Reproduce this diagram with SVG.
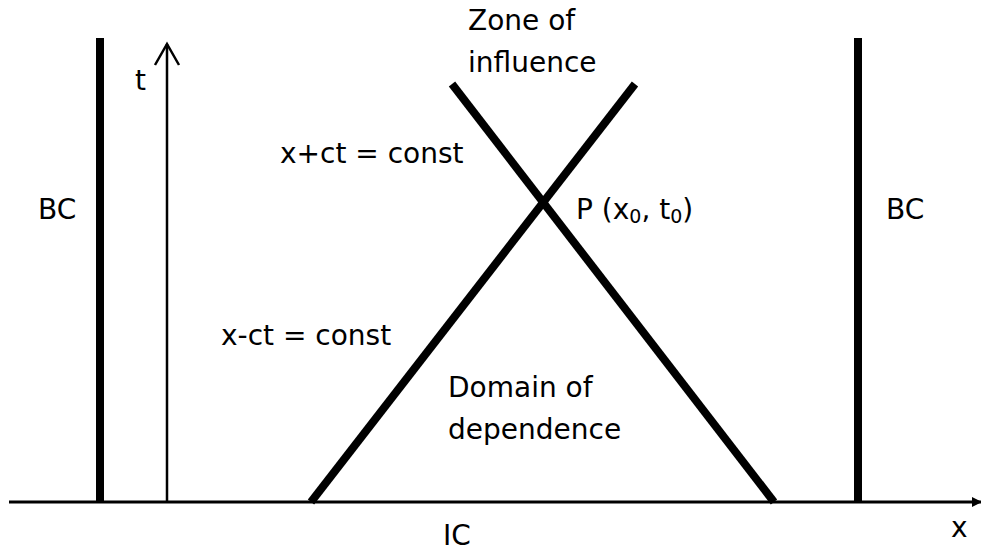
<svg xmlns="http://www.w3.org/2000/svg" width="981" height="551" viewBox="0 0 981 551">
<style>
text{font-family:"DejaVu Sans",Verdana,sans-serif;font-size:28px;fill:#000}
.thick{stroke:#000;stroke-width:8;fill:none}
.axis{stroke:#000;fill:none}
</style>
<defs>
<marker id="ax" markerWidth="10" markerHeight="10" refX="9" refY="5" orient="auto" markerUnits="userSpaceOnUse">
<path d="M0,0 L10,5 L0,10 Z" fill="#000"/>
</marker>
</defs>
<rect width="981" height="551" fill="#fff"/>
<g id="connectors">
<line class="axis" x1="9" y1="502" x2="981" y2="502" stroke-width="3" marker-end="url(#ax)"/>
<line class="axis" x1="167" y1="501" x2="167" y2="44" stroke-width="2.5"/>
<path class="axis" d="M155,65 L167,44 L179,65" stroke-width="2.5"/>
<line class="thick" x1="100" y1="38" x2="100" y2="501"/>
<line class="thick" x1="858" y1="38" x2="858" y2="501"/>
<line class="thick" x1="311" y1="502" x2="635" y2="84"/>
<line class="thick" x1="452" y1="84" x2="774" y2="502"/>
</g>
<g id="labels">
<text x="468" y="30">Zone of</text>
<text x="468" y="72">influence</text>
<text x="135" y="90">t</text>
<text x="38" y="219">BC</text>
<text x="886" y="219">BC</text>
<text x="280" y="163">x+ct = const</text>
<text x="576" y="219">P (x<tspan font-size="19" dy="4">0</tspan><tspan dy="-4">, t</tspan><tspan font-size="19" dy="4">0</tspan><tspan dy="-4">)</tspan></text>
<text x="221" y="345">x-ct = const</text>
<text x="448" y="397">Domain of</text>
<text x="448" y="439">dependence</text>
<text x="443" y="545">IC</text>
<text x="951" y="537">x</text>
</g>
</svg>
